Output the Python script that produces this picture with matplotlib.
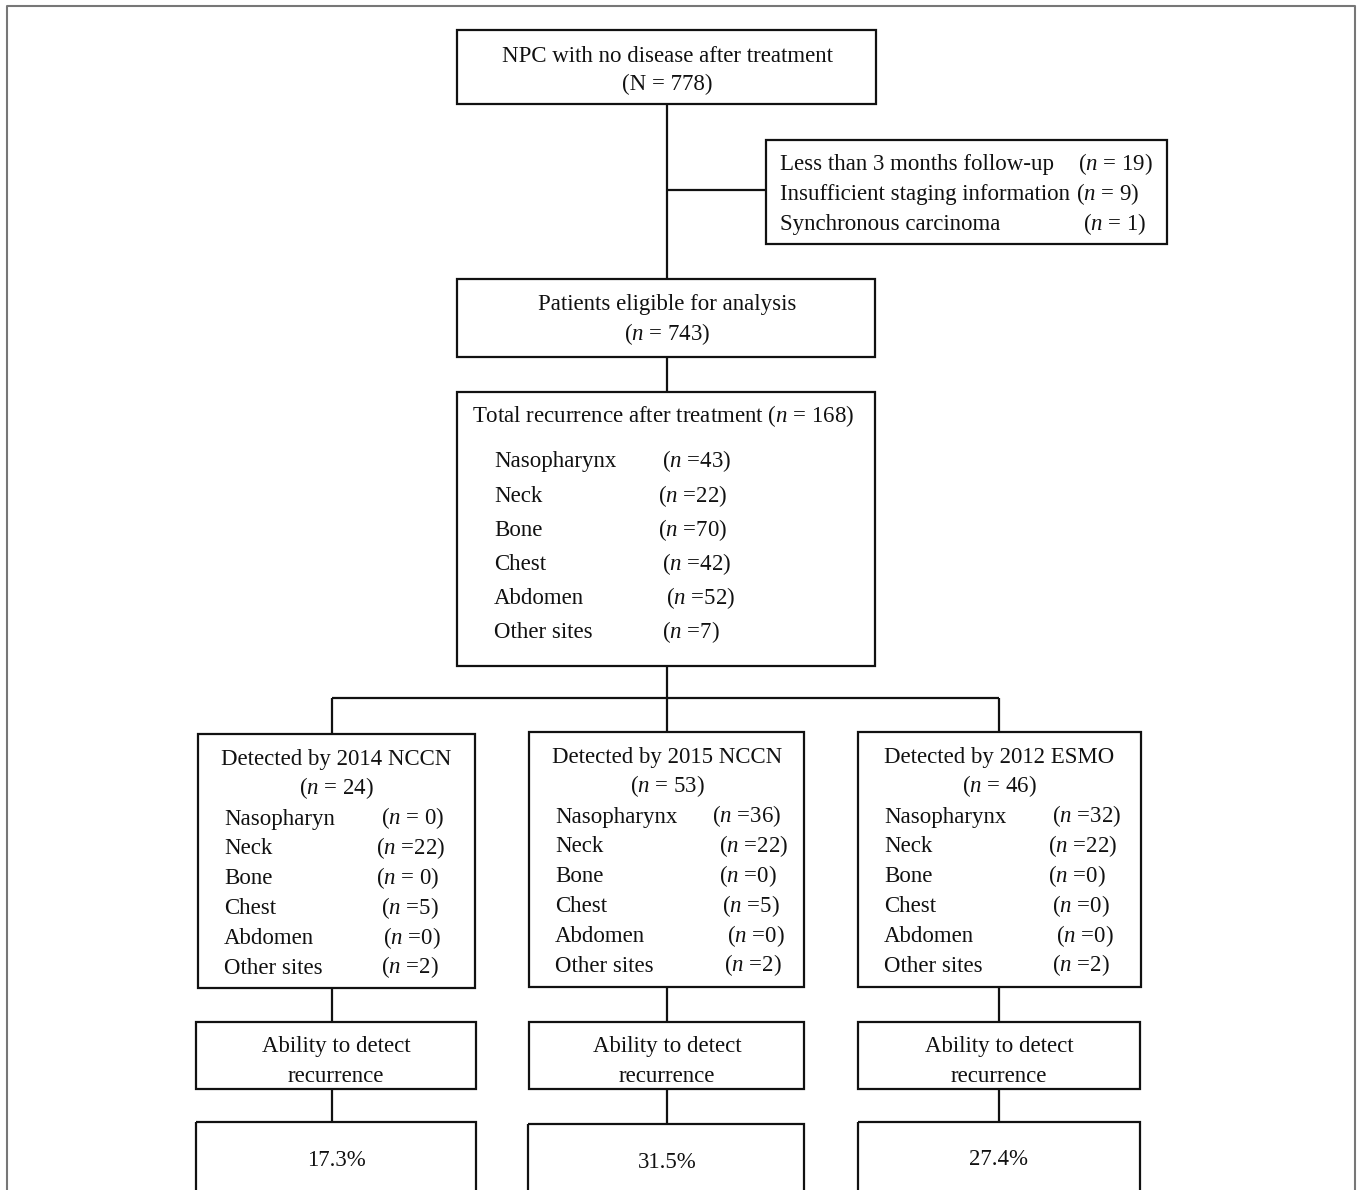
import matplotlib.pyplot as plt
from matplotlib.patches import Rectangle

plt.rcParams['font.family'] = 'Liberation Serif'
plt.rcParams['mathtext.fontset'] = 'custom'
plt.rcParams['mathtext.rm'] = 'Liberation Serif'
plt.rcParams['mathtext.it'] = 'Liberation Serif:italic'

# ---- data ----
total_n = 778
excluded_labels = ["Less than 3 months follow-up", "Insufficient staging information", "Synchronous carcinoma"]
excluded_n = [19, 9, 1]
eligible_n = 743
recurrence_n = 168
sites = ["Nasopharynx", "Neck", "Bone", "Chest", "Abdomen", "Other sites"]
sites_short = ["Nasopharyn", "Neck", "Bone", "Chest", "Abdomen", "Other sites"]
site_n = [43, 22, 70, 42, 52, 7]
guidelines = ["2014 NCCN", "2015 NCCN", "2012 ESMO"]
guideline_n = [24, 53, 46]
guideline_site_n = [[0, 22, 0, 5, 0, 2],
                    [36, 22, 0, 5, 0, 2],
                    [32, 22, 0, 0, 0, 2]]
detect_pct = [17.3, 31.5, 27.4]

FS = 16.5
LW = 1.6
COL = '#111111'
BASE = 7.0   # baseline sits this far below the visual line centre

fig = plt.figure(figsize=(13.57, 11.90), dpi=100)
ax = fig.add_axes([0, 0, 1, 1])
ax.set_xlim(0, 1357)
ax.set_ylim(1190, 0)
ax.axis('off')

def box(x0, y0, x1, y1):
    ax.add_patch(Rectangle((x0, y0), x1 - x0, y1 - y0, fill=False, ec=COL, lw=LW))

def line(xs, ys, c=COL, lw=LW):
    ax.plot(xs, ys, color=c, lw=lw, solid_capstyle='butt')

def txt(x, y, s, ha='center'):
    ax.text(x, y + BASE, s, ha=ha, va='baseline', fontsize=FS, color=COL)

def nlab(v, sp=True):
    return "($n$ = %d)" % v if sp else "($n$ =%d)" % v

# outer frame
line([7, 7, 1355, 1355], [1190, 6, 6, 1190], c='#777777', lw=1.5)

# top box
box(457, 30, 876, 104)
txt(667, 54.5, "NPC with no disease after treatment")
txt(667, 83, "(N = %d)" % total_n)
line([667, 667], [104, 279])
line([667, 766], [190, 190])

# exclusion box
box(766, 140, 1167, 244)
ex_x = [1078, 1076, 1083]
for i, (lab, v) in enumerate(zip(excluded_labels, excluded_n)):
    y = 163 + 30 * i
    txt(780, y, lab, ha='left')
    txt(ex_x[i], y, nlab(v), ha='left')

# eligible box
box(457, 279, 875, 357)
txt(667, 303, "Patients eligible for analysis")
txt(667, 333, "($n$ = %d)" % eligible_n)
line([667, 667], [357, 392])

# total recurrence box
box(457, 392, 875, 666)
txt(472, 415, "Total recurrence after treatment ($n$ = %d)" % recurrence_n, ha='left')
main_nx = [662, 658, 658, 662, 666, 662]
for i, (s, v) in enumerate(zip(sites, site_n)):
    y = 460.5 + 34.2 * i
    txt(494, y, s, ha='left')
    txt(main_nx[i], y, nlab(v, False), ha='left')

# branches
line([667, 667], [666, 698])
cx = [332, 667, 999]
line([cx[0], cx[2]], [698, 698])

gbox = [(198, 734, 475, 988), (529, 732, 804, 987), (858, 732, 1141, 987)]
lab_x = [224, 555, 884]
ncol_x = [[381, 376, 376, 381, 383, 381],
          [712, 719, 719, 722, 727, 724],
          [1052, 1048, 1048, 1052, 1056, 1052]]
title_c = [336, 667, 999]
ab_box = [(196, 1022, 476, 1089), (529, 1022, 804, 1089), (858, 1022, 1140, 1089)]
res_box = [(196, 1122, 476, 1200), (528, 1124, 804, 1200), (858, 1122, 1140, 1200)]
res_y = [1159, 1161, 1158]

for k in range(3):
    x0, y0, x1, y1 = gbox[k]
    line([cx[k], cx[k]], [698, y0])
    box(x0, y0, x1, y1)
    ty = y0 + 23.5
    txt(title_c[k], ty, "Detected by " + guidelines[k])
    txt(title_c[k], ty + 30, "($n$ = %d)" % guideline_n[k])
    for i in range(6):
        y = ty + 60 + 29.8 * i
        name = sites_short[i] if k == 0 else sites[i]
        v = guideline_site_n[k][i]
        sp = (k == 0 and v == 0 and i in (0, 2))
        txt(lab_x[k], y, name, ha='left')
        txt(ncol_x[k][i], y, nlab(v, sp), ha='left')
    line([cx[k], cx[k]], [y1, ab_box[k][1]])
    a0, b0, a1, b1 = ab_box[k]
    box(a0, b0, a1, b1)
    txt(title_c[k], b0 + 23, "Ability to detect")
    txt(title_c[k], b0 + 53, "recurrence")
    line([cx[k], cx[k]], [b1, res_box[k][1]])
    r0, s0, r1, s1 = res_box[k]
    box(r0, s0, r1, s1)
    txt(title_c[k], res_y[k], "%.1f%%" % detect_pct[k])

fig.savefig("out.png", dpi=100)
